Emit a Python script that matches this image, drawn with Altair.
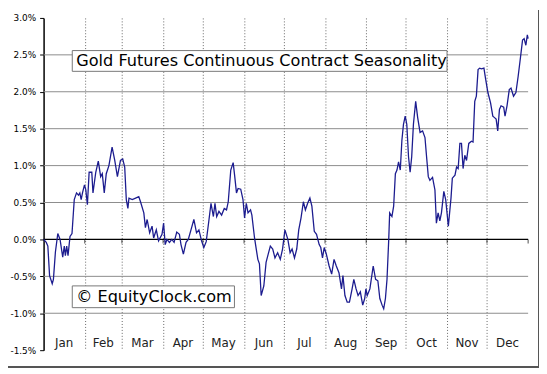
import altair as alt
import pandas as pd

# Day-of-year positions and seasonal return (%)
days = [0, 2.0, 3.2, 4.5, 6.5, 7.4, 8.9, 10.7, 12.4, 14.4, 15.6, 16.4, 17.4, 18.4, 19.9, 21.4,
        23.1, 24.8, 26.3, 27.3, 28.3, 29.3, 30.8, 31.8, 33.0, 34.3, 36.3, 37.2, 39.3, 41.2,
        43.0, 44.2, 45.7, 47.2, 49.2, 51.6, 53.6, 55.6, 57.9, 59.6, 61.1, 62.3, 63.5,
        64.3, 66.8, 69.3, 71.7, 73.0, 75.5, 76.7, 78.0, 79.9, 81.7, 82.9, 84.9, 86.6, 89.2,
        90.4, 91.6, 92.9, 94.8, 96.6, 98.3, 100.3, 102.3, 103.5, 105.3, 107.3, 109.0, 111.5,
        113.2, 115.2, 117.0, 119.0, 120.7, 122.5, 124.4, 126.1, 127.9, 129.1, 130.4, 132.1,
        134.1, 136.1, 137.8, 139.1, 141.0, 142.8, 144.0, 145.3, 146.5, 148.5, 150.2, 151.4,
        152.7, 154.0, 155.9, 156.9, 158.9, 160.2, 161.4, 162.6, 163.9, 165.9, 167.6, 168.9,
        170.8, 172.6, 174.3, 176.3, 178.3, 180.0, 181.8, 184.0, 185.7, 187.2, 189.0, 190.7,
        192.2, 193.9, 195.7, 197.2, 198.9, 200.6, 202.1, 203.9, 205.6, 207.6, 208.8, 210.1,
        211.4, 213.0, 215.1, 217.0, 218.8, 220.5, 222.5, 224.4, 225.5, 227.0, 228.7, 230.4,
        232.4, 233.7, 235.4, 236.9, 238.6, 240.4, 241.9, 242.8, 243.8, 245.8, 248.3, 250.1,
        251.8, 253.3, 255.0, 256.2, 257.5, 258.7, 260.0, 260.7, 262.4, 263.7, 265.0, 266.2,
        267.4, 268.7, 269.9, 271.1, 272.4, 273.6, 274.9, 276.1, 277.3, 278.6, 280.3, 281.8,
        283.6, 285.5, 287.3, 288.5, 289.8, 291.0, 293.0, 294.8, 295.9, 297.2, 298.5, 299.7,
        301.5, 302.9, 304.9, 306.9, 307.9, 309.9, 311.1, 312.3, 313.6, 314.8, 316.0, 317.3,
        318.6, 320.3, 322.3, 323.5, 324.8, 326.0, 327.3, 328.5, 329.8, 331.7, 333.0, 334.7,
        336.7, 338.4, 339.7, 340.9, 342.1, 343.4, 344.6, 346.6, 347.6, 349.1, 350.8, 352.1,
        354.0, 355.8, 357.5, 359.0, 360.8, 362.0, 363.3, 364.4, 365]
values = [0.00, -0.04, -0.09, -0.49, -0.60, -0.54, -0.17, 0.08, 0.00, -0.24, -0.09, -0.22, -0.09, -0.22, 0.04, 0.08,
          0.54, 0.63, 0.60, 0.63, 0.54, 0.63, 0.74, 0.67, 0.47, 0.91, 0.91, 0.63, 0.91, 1.06,
          0.85, 0.89, 0.63, 0.89, 1.00, 1.25, 1.07, 0.85, 1.07, 1.09, 0.98, 0.54, 0.42,
          0.56, 0.54, 0.56, 0.58, 0.51, 0.36, 0.16, 0.27, 0.09, 0.18, 0.02, 0.13, -0.02, 0.07,
          0.22, -0.07, 0.00, -0.04, 0.00, -0.04, 0.10, 0.07, -0.07, -0.20, -0.04, 0.00, 0.16,
          0.27, 0.09, 0.13, -0.02, -0.11, -0.03, 0.24, 0.49, 0.31, 0.49, 0.31, 0.38,
          0.33, 0.42, 0.40, 0.51, 0.94, 1.04, 0.85, 0.63, 0.69, 0.68, 0.54, 0.29,
          0.49, 0.36, 0.40, 0.33, 0.02, -0.13, -0.27, -0.33, -0.76, -0.63, -0.31, -0.22,
          -0.09, -0.13, -0.25, -0.18, -0.27, -0.13, 0.13, 0.00, -0.18, -0.13, -0.25, -0.13,
          0.13, 0.29, 0.51, 0.40, 0.49, 0.56, 0.45, 0.11, 0.07, -0.07, -0.11, -0.25,
          -0.11, -0.20, -0.36, -0.47, -0.27, -0.36, -0.45, -0.67, -0.49, -0.76, -0.85, -0.85,
          -0.67, -0.54, -0.67, -0.76, -0.71, -0.89, -0.80, -0.67, -0.76, -0.67, -0.36, -0.54,
          -0.56, -0.80, -0.89, -0.94, -0.80, -0.54, 0.00, 0.36, 0.31, 0.45, 0.89, 0.94,
          1.05, 0.94, 1.34, 1.56, 1.67, 1.56, 1.12, 0.91, 1.12, 1.56, 1.87, 1.65,
          1.45, 1.47, 1.38, 1.12, 0.85, 0.80, 0.84, 0.67, 0.22, 0.36, 0.25, 0.36,
          0.65, 0.54, 0.18, 0.56, 0.83, 0.87, 0.98, 0.96, 1.30, 1.30, 0.96, 1.14,
          1.07, 1.30, 1.33, 1.32, 1.87, 1.94, 2.30, 2.32, 2.31, 2.32, 2.17, 1.99,
          1.85, 1.67, 1.65, 1.63, 1.47, 1.76, 1.81, 1.79, 1.67, 1.81, 2.03, 2.05,
          1.94, 1.99, 2.21, 2.43, 2.70, 2.72, 2.63, 2.77, 2.72]

month_names = ["Jan", "Feb", "Mar", "Apr", "May", "Jun", "Jul", "Aug", "Sep", "Oct", "Nov", "Dec"]
month_mid = [15.5, 45, 74.5, 105, 135.5, 166, 196.5, 227.5, 258, 288.5, 319, 349.5]
month_bounds = [31, 59, 90, 120, 151, 181, 212, 243, 273, 304, 334]
zero_ticks = [31, 59, 90, 120, 151, 181, 212, 243, 273, 304, 334, 365]
y_ticks = [-1.5, -1.0, -0.5, 0.0, 0.5, 1.0, 1.5, 2.0, 2.5, 3.0]
grid_vals = [-1.0, -0.5, 0.5, 1.0, 1.5, 2.0, 2.5]

title_text = "Gold Futures Continuous Contract Seasonality"
credit_text = "\u00a9 EquityClock.com"

FONT = "DejaVu Sans"
x_scale = alt.Scale(domain=[0, 365], nice=False, zero=False)
y_scale = alt.Scale(domain=[-1.5, 3.0], nice=False, zero=False)

x_axis = alt.Axis(values=month_bounds, grid=True, gridDash=[1, 2], gridColor="#666",
                  gridWidth=1, labels=False, ticks=False, domain=False, title=None)
y_axis = alt.Axis(values=y_ticks, grid=False, domainColor="black", domainWidth=1.5,
                  tickColor="black", tickSize=4, labelPadding=4,
                  labelExpr="(datum.value < 0 ? '-' : '') + format(abs(datum.value), '.1f') + '%'",
                  labelFont=FONT, labelFontSize=9, labelColor="#000", title=None)

df = pd.DataFrame({"day": days, "val": values})
grid_df = pd.DataFrame({"day": [0.0] * len(grid_vals), "val": grid_vals})
zero_df = pd.DataFrame({"day": [0.0], "val": [0.0]})
tick_df = pd.DataFrame({"day": zero_ticks, "val": [0.0] * len(zero_ticks)})
month_df = pd.DataFrame({"m": month_names, "day": month_mid})
one = pd.DataFrame({"a": [0]})

X = alt.X("day:Q", scale=x_scale, axis=x_axis)
Y = alt.Y("val:Q", scale=y_scale, axis=y_axis)

grid = alt.Chart(grid_df).mark_rule(color="#8c8c8c", strokeWidth=1).encode(y=Y)
zero = alt.Chart(zero_df).mark_rule(color="black", strokeWidth=1.2).encode(y=Y)
zticks = alt.Chart(tick_df).mark_tick(orient="vertical", color="black", size=4, thickness=1, yOffset=2).encode(
    x=X, y=Y)
line = alt.Chart(df).mark_line(color="#1c1c8f", strokeWidth=1.3).encode(x=X, y=Y)

months = alt.Chart(month_df).mark_text(font=FONT, fontSize=12, color="#222", baseline="middle").encode(
    x=X, y=alt.value(329), text="m:N")

title_box = alt.Chart(one).mark_rect(fill="white", stroke="#777", strokeWidth=1).encode(
    x=alt.value(29), x2=alt.value(408), y=alt.value(33), y2=alt.value(54))
title_lbl = alt.Chart(one).mark_text(font=FONT, fontSize=16.3, color="black", align="left", baseline="middle").encode(
    x=alt.value(33), y=alt.value(44), text=alt.value(title_text))
credit_box = alt.Chart(one).mark_rect(fill="white", stroke="#777", strokeWidth=1).encode(
    x=alt.value(29), x2=alt.value(193), y=alt.value(271), y2=alt.value(293))
credit_lbl = alt.Chart(one).mark_text(font=FONT, fontSize=16.3, color="black", align="left", baseline="middle").encode(
    x=alt.value(33), y=alt.value(282), text=alt.value(credit_text))

frame_r = alt.Chart(one).mark_rule(color="#555", strokeWidth=2).encode(
    x=alt.value(501), y=alt.value(-8), y2=alt.value(354))
frame_b = alt.Chart(one).mark_rule(color="#555", strokeWidth=2).encode(
    x=alt.value(-36), x2=alt.value(502), y=alt.value(353))

chart = alt.layer(
    grid, zero, zticks, line, months, title_box, title_lbl, credit_box, credit_lbl, frame_r, frame_b
).properties(
    width=490, height=336,
    autosize=alt.AutoSizeParams(type="none"),
    padding={"left": 36, "top": 8, "right": 11, "bottom": 18},
).configure_view(stroke=None)

chart.save("out.html", embed_options={"renderer": "svg", "actions": False})
